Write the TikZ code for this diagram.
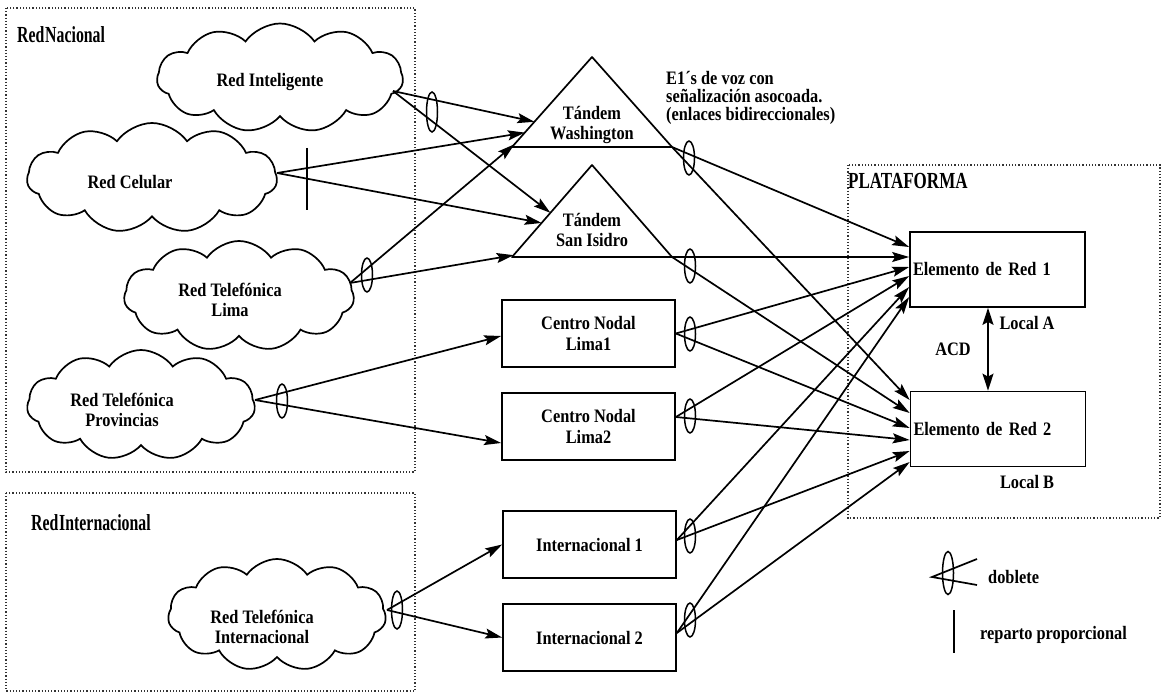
\documentclass[tikz,border=0pt]{standalone}
\usepackage{fontspec}
\setmainfont{Liberation Serif}[FakeStretch=0.86]
\usetikzlibrary{shapes.symbols,shapes.geometric,arrows.meta,calc}

\begin{document}
\begin{tikzpicture}[x=1pt,y=-1pt,
  txt/.style={font=\fontsize{19}{20.5}\selectfont\bfseries, align=center, inner sep=0pt},
  title/.style={font=\fontsize{23}{23}\selectfont\bfseries, anchor=west, inner sep=0pt},
  region/.style={draw=black!80, dotted, line width=1.2pt},
  cloudshape/.style={cloud, cloud puffs=11, cloud puff arc=110, cloud ignores aspect,
                     draw, line width=1.7pt, inner sep=0pt},
  outline/.style={line width=1.7pt, line join=round},
  box/.style={draw, line width=1.7pt, minimum width=173pt, minimum height=67pt,
              inner sep=0pt, align=center, font=\fontsize{19}{20.5}\selectfont\bfseries},
  elembox/.style={draw, line width=1.7pt, minimum width=175pt, minimum height=75pt,
                  text width=169pt, inner xsep=3pt, align=left,
                  font=\fontsize{19}{20.5}\selectfont\bfseries},
  dob/.style={draw, ellipse, line width=1.5pt, minimum width=11pt, minimum height=#1, inner sep=0pt},
  dob/.default=34pt,
  arr/.style={line width=1.7pt, -{Stealth[length=17pt,width=10pt,inset=3pt]}},
  dbl/.style={line width=1.7pt, {Stealth[length=17pt,width=11pt,inset=3pt]}-{Stealth[length=17pt,width=11pt,inset=3pt]}},
  plain/.style={line width=1.7pt}
]
\useasboundingbox (0,0) rectangle (1161,695);
\fill[white] (0,0) rectangle (1161,695);

% --- dotted regions and their titles ---
\draw[region] (6,8) rectangle (415,472);
\draw[region] (6,493) rectangle (415,691);
\draw[region] (848,165) rectangle (1160,518);
\node[title] (t-nac) at (17,35) {\scalebox{0.8}[1]{Red\hspace{1pt}Nacional}};
\node[title] (t-int) at (31,523) {\scalebox{0.8}[1]{Red\hspace{1pt}Internacional}};
\node[title] (t-pla) at (848,181) {\scalebox{0.86}[1]{PLATAFORMA}};

% --- networks (clouds) ---
\node[cloudshape, minimum width=246pt, minimum height=109pt] (intel) at (280,78) {};
\node[cloudshape, minimum width=250pt, minimum height=110pt] (celular) at (152,178) {};
\node[cloudshape, minimum width=230pt, minimum height=110pt] (lima) at (239,296) {};
\node[cloudshape, minimum width=228pt, minimum height=110pt] (prov) at (141,405) {};
\node[cloudshape, minimum width=218pt, minimum height=112pt] (intl) at (277,615) {};
\node[txt] (intel-t) at (270,82) {Red Inteligente};
\node[txt] (celular-t) at (130,182) {Red Celular};
\node[txt] (lima-t) at (230,300) {Red Telefónica\\Lima};
\node[txt] (prov-t) at (122,410) {Red Telefónica\\Provincias};
\node[txt] (intl-t) at (262,627) {Red Telefónica\\Internacional};

\coordinate (intel-o) at (393,91);
\coordinate (celular-o) at (277,173);
\coordinate (lima-o) at (350,283);
\coordinate (prov-o) at (255,400);
\coordinate (intl-o) at (387,610);

% --- tandem switches ---
\coordinate (wA) at (592,57);  \coordinate (wL) at (512,147); \coordinate (wR) at (672,147);
\coordinate (sA) at (592,165); \coordinate (sL) at (512,257); \coordinate (sR) at (672,257);
\draw[outline] (wA) -- (wL) -- (wR) -- cycle;
\draw[outline] (sA) -- (sL) -- (sR) -- cycle;
\node[txt] (wash-t) at (592,125) {Tándem\\Washington};
\node[txt] (si-t) at (592,230) {Tándem\\San Isidro};

% --- nodal and international centres ---
\node[box] (lima1) at (588.5,333.5) {Centro Nodal\\Lima1};
\node[box] (lima2) at (588.5,426.5) {Centro Nodal\\Lima2};
\node[box] (int1) at (589.5,544.5) {Internacional 1};
\node[box] (int2) at (589.5,637.5) {Internacional 2};

% --- platform elements ---
\node[elembox] (e1) at (997.5,269.5) {Elemento de Red 1};
\node[elembox] (e2) at (998,429) {Elemento de Red 2};

% --- links from the national and international networks ---
\draw[arr] (intel-o) -- ($(wA)!0.72!(wL)$);
\draw[arr] (intel-o) -- ($(sA)!0.52!(sL)$);
\draw[arr] (celular-o) -- ($(wA)!0.84!(wL)$);
\draw[arr] (celular-o) -- ($(sA)!0.63!(sL)$);
\draw[arr] (lima-o) -- ($(wA)!0.97!(wL)$);
\draw[arr] (lima-o) -- ($(sA)!0.98!(sL)$);
\draw[arr] (prov-o) -- ([yshift=-2.5pt]lima1.west);
\draw[arr] (prov-o) -- ([yshift=-16.5pt]lima2.west);
\draw[arr] (intl-o) -- (int1.west);
\draw[arr] (intl-o) -- (int2.west);

% --- links to the platform ---
\draw[arr] (wR) -- ([yshift=22.5pt]e1.west);
\draw[arr] (wR) -- ([yshift=29pt]e2.west);
\draw[arr] (sR) -- ([yshift=12.5pt]e1.west);
\draw[arr] (sR) -- ([yshift=16pt]e2.west);
\draw[arr] (lima1.east) -- ([yshift=2.5pt]e1.west);
\draw[arr] (lima1.east) -- ([yshift=1pt]e2.west);
\draw[arr] ([yshift=9.5pt]lima2.east) -- ([yshift=-6.5pt]e1.west);
\draw[arr] ([yshift=9.5pt]lima2.east) -- ([yshift=-11pt]e2.west);
\draw[arr] ([yshift=4.5pt]int1.east) -- ([yshift=-17.5pt]e1.west);
\draw[arr] ([yshift=4.5pt]int1.east) -- ([yshift=-22pt]e2.west);
\draw[arr] ([yshift=4.5pt]int2.east) -- ([yshift=-27.5pt]e1.west);
\draw[arr] ([yshift=4.5pt]int2.east) -- ([yshift=-33pt]e2.west);

% --- doublets and proportional split ---
\node[dob=40pt] (d-intel) at (432,112) {};
\node[dob] (d-lima) at (367,275) {};
\node[dob] (d-prov) at (282,401) {};
\node[dob=38pt] (d-intl) at (397,610) {};
\node[dob] (d-wash) at (689,158) {};
\node[dob] (d-si) at (690,266) {};
\node[dob] (d-l1) at (690,334) {};
\node[dob] (d-l2) at (690,416) {};
\node[dob] (d-i1) at (690,536) {};
\node[dob] (d-i2) at (690,620) {};
\draw[plain] (307,148) -- (307,210);

% --- E1 note ---
\node[txt, anchor=north west, align=left, font=\fontsize{19}{18}\selectfont\bfseries] (note) at (666,71)
  {E1´s de voz con\\señalización asocoada.\\(enlaces bidireccionales)};

% --- ACD between the two elements ---
\draw[dbl] ([xshift=-9.5pt]e1.south) -- ([xshift=-10pt]e2.north);
\node[txt] (acd) at (953,349) {ACD};
\node[txt] (loc-a) at (1027,323) {Local A};
\node[txt] (loc-b) at (1027,482) {Local B};

% --- legend ---
\node[dob=43pt] (d-leg) at (948,573) {};
\coordinate (leg-v) at (932,577);
\draw[plain] (977,559) -- (leg-v) -- (977,585);
\node[txt, anchor=west] (leg-dob) at (988,577) {doblete};
\draw[plain] (954,610) -- (954,653);
\node[txt, anchor=west] (leg-rep) at (980,635) {reparto proporcional};
\end{tikzpicture}
\end{document}
